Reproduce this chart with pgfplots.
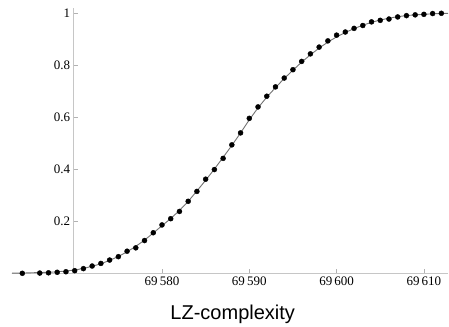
\documentclass[border=0pt]{standalone}
\usepackage{fontspec}
\setmainfont{Liberation Serif}
\newfontfamily\labelsans{Liberation Sans}
\usepackage{pgfplots}
\pgfplotsset{compat=1.18}
\begin{document}
\begin{tikzpicture}
\begin{axis}[
  x=8.73pt, y=260pt,
  xmin=69562.82, xmax=69612.76,
  ymin=0, ymax=1.02,
  axis x line=bottom, axis y line=left,
  axis y line shift=-61.7pt,
  axis line style={-, draw=gray!45, line width=0.8pt},
  tick align=inside,
  major tick length=4.5pt,
  tick style={draw=gray!60, line width=0.6pt},
  scaled x ticks=false, scaled y ticks=false,
  xtick={69580,69590,69600,69610},
  xticklabels={69\,580,69\,590,69\,600,69\,610},
  ytick={0.2,0.4,0.6,0.8,1},
  yticklabels={0.2,0.4,0.6,0.8,1},
  ticklabel style={font=\fontsize{13}{15}\selectfont},
  /pgf/number format/assume math mode=true,
  clip=false,
]
\addplot[draw=black!55, line width=0.9pt, smooth, no marks] coordinates {
(69562.82,0.001) (69564,0.001) (69565,0.002) (69566,0.003) (69567,0.004)
(69568,0.006) (69569,0.009) (69570,0.013) (69571,0.019) (69572,0.027)
(69573,0.037) (69574,0.050) (69575,0.065) (69576,0.083) (69577,0.104)
(69578,0.128) (69579,0.155) (69580,0.183) (69581,0.211) (69582,0.242)
(69583,0.277) (69584,0.317) (69585,0.358) (69586,0.401) (69587,0.446)
(69588,0.492) (69589,0.540) (69590,0.590) (69591,0.636) (69592,0.677)
(69593,0.714) (69594,0.749) (69595,0.781) (69596,0.812) (69597,0.840)
(69598,0.866) (69599,0.889) (69600,0.909) (69601,0.926) (69602,0.941)
(69603,0.954) (69604,0.965) (69605,0.974) (69606,0.981) (69607,0.987)
(69608,0.991) (69609,0.994) (69610,0.996) (69611,0.998) (69612,0.999)
(69612.76,1.000)
};
\addplot[only marks, mark=*, mark size=2.5pt, mark options={fill=black, draw=black}] coordinates {
(69564,0.000) (69566,0.001) (69567,0.002) (69568,0.004) (69569,0.006)
(69570,0.010) (69571,0.018) (69572,0.028) (69573,0.038) (69574,0.051)
(69575,0.064) (69576,0.085) (69577,0.098) (69578,0.126) (69579,0.156)
(69580,0.186) (69581,0.210) (69582,0.238) (69583,0.277) (69584,0.315)
(69585,0.362) (69586,0.399) (69587,0.442) (69588,0.494) (69589,0.540)
(69590,0.596) (69591,0.640) (69592,0.681) (69593,0.717) (69594,0.751)
(69595,0.783) (69596,0.815) (69597,0.844) (69598,0.870) (69599,0.894)
(69600,0.916) (69601,0.928) (69602,0.942) (69603,0.953) (69604,0.967)
(69605,0.973) (69606,0.978) (69607,0.986) (69608,0.991) (69609,0.994)
(69610,0.996) (69611,0.999) (69612,1.000)
};
\node[anchor=base, font=\labelsans\fontsize{20}{24}\selectfont] at (axis cs:69588.1,0) [yshift=-46pt] {LZ-complexity};
\coordinate (bbA) at (axis cs:69562.82,0);
\coordinate (bbB) at (axis cs:69612.76,0);
\end{axis}
\path (bbA) ++(-12pt,-52.7pt) (bbB) ++(1pt,273.3pt);
\end{tikzpicture}
\end{document}
